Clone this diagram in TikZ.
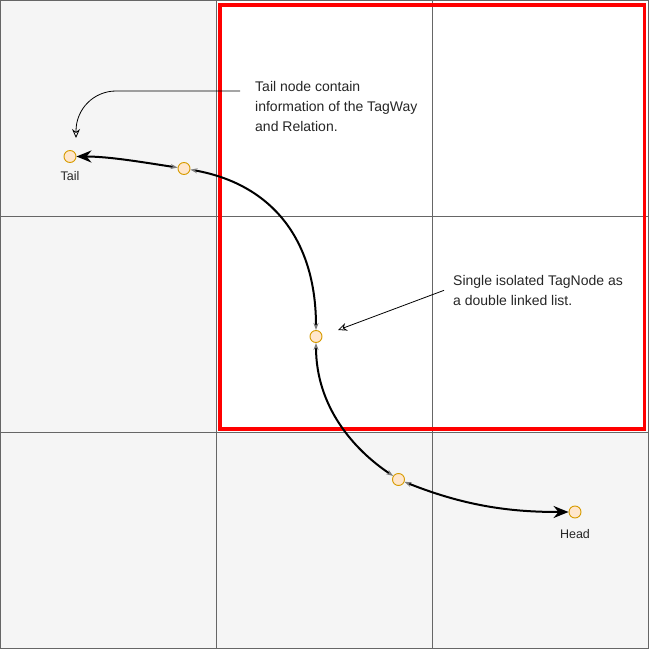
\documentclass[tikz,border=0pt]{standalone}
\usepackage{fontspec}
\setmainfont{Liberation Sans}
\usetikzlibrary{arrows.meta}
\usetikzlibrary{positioning}
\definecolor{cellgray}{HTML}{F5F5F5}
\definecolor{cellline}{HTML}{666666}
\definecolor{tagfill}{HTML}{FFE6CC}
\definecolor{tagline}{HTML}{D79B00}
\definecolor{tipgray}{HTML}{7A7A7A}

\begin{document}
\begin{tikzpicture}[x=1pt, y=-1pt,
		smalltip/.tip={Stealth[color=tipgray, length=7pt, width=5pt]},
		bigtip/.tip={Stealth[length=15pt, width=12pt]},
		cell/.style={fill=cellgray, draw=cellline, line width=0.8pt},
		tag/.style={circle, draw=tagline, fill=tagfill, line width=0.9pt, minimum size=12pt, inner sep=0pt},
		tagname/.style={font=\fontsize{12.5}{14}\selectfont, text=black!85, inner sep=1pt},
		link/.style={line width=2pt, smalltip-smalltip},
		ending/.style={line width=2pt, smalltip-bigtip},
		note/.style={align=left, inner sep=0pt, font=\fontsize{14}{20}\selectfont, text=black!85},
		pointer/.style={line width=0.8pt, -{Stealth[open, length=9pt, width=8pt]}}]
			\useasboundingbox (0,0) rectangle (651,650);
			% grid of cells
			\foreach \col in {0,1,2}
				\foreach \row in {0,1,2}
					\draw[cell] (216*\col,216*\row) rectangle +(216,216);
			\foreach \col/\row in {1/0,2/0,1/1,2/1}
				\draw[cell, fill=white] (216*\col,216*\row) rectangle +(216,216);
			\draw[red, line width=3.5pt] (220,5) rectangle (644.5,429);
			% tag nodes
			\node[tag] (tail) at (70,156.5) {};
			\node[tag] (n1) at (184,168.5) {};
			\node[tag] (n2) at (316,336.5) {};
			\node[tag] (n3) at (398.5,479.5) {};
			\node[tag] (head) at (575,512) {};
			\node[tagname, below = 7pt of tail] (taillabel) {Tail};
			\node[tagname, below = 10pt of head] (headlabel) {Head};
			% links
			\draw[ending] (n1) .. controls +(-40,-6) and +(40,0) .. (tail);
			\draw[link] (n1) .. controls +(85,15) and +(0,-100) .. (n2);
			\draw[link] (n2) .. controls +(0,70) and +(-45,-30) .. (n3);
			\draw[ending] (n3) .. controls +(70,28) and +(-60,0) .. (head);
			% notes
			\node[note, anchor=north west] (tailnote) at (255,81) {Tail node contain\\information of the TagWay\\and Relation.};
			\node[note, anchor=north west] (listnote) at (453,275) {Single isolated TagNode as\\a double linked list.};
			\coordinate (tailfrom) at (240,91);
			\coordinate (tailtip) at (76,138);
			\coordinate (listtip) at (338,330);
			\draw[pointer, rounded corners=40pt] (tailfrom) -| (tailtip);
			\draw[pointer] ([xshift=-9pt]listnote.west) -- (listtip);
		\end{tikzpicture}
\end{document}
